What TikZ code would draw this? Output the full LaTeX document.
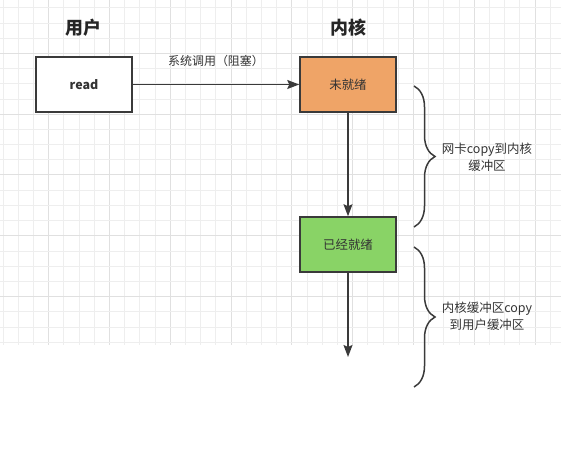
\documentclass[tikz,border=0pt]{standalone}
\usepackage{fontspec}
\setmainfont{Noto Sans CJK SC}
\usepackage{tikz}
\usetikzlibrary{positioning, arrows.meta, decorations.pathreplacing}
\definecolor{lineGray}{HTML}{3A3A3A}
\definecolor{txtGray}{HTML}{333333}
\definecolor{notReady}{HTML}{EFA467}
\definecolor{isReady}{HTML}{89D366}
\definecolor{gridMinor}{HTML}{EEEEEE}
\definecolor{gridMajor}{HTML}{E0E0E0}
\tikzset{
  stateBox/.style={ draw=lineGray, line width=1.5bp, minimum width=96bp, minimum height=55bp, text=txtGray, font=\fontsize{12.5}{15}\selectfont }
}
\tikzset{
  userBox/.style={ stateBox, fill=white, font=\fontsize{12.5}{15}\selectfont\bfseries }
}
\tikzset{
  colTitle/.style={ text=black!85, font=\fontsize{18}{20}\selectfont\bfseries }
}
\tikzset{
  noteText/.style={ text=txtGray, align=center, font=\fontsize{12.5}{17}\selectfont }
}
\tikzset{
  flow/.style={ draw=lineGray, line width=1.5bp, -{Stealth[length=12bp, width=9bp, inset=2bp]} }
}
\tikzset{
  bigBrace/.style={ draw=lineGray, line width=1.5bp, decorate, decoration={brace, amplitude=21bp} }
}

\begin{document}
\begin{tikzpicture}[x=1bp, y=-1bp]
      \useasboundingbox (0, 0) rectangle (561, 450);
      % background grid
      \foreach \i in {0,...,36} {
        \pgfmathsetmacro\gx{3+15.2*\i}
        \pgfmathtruncatemacro\gm{mod(\i,4)}
        \ifnum\gm=3
          \draw[gridMajor, line width=1bp] (\gx, 0) -- (\gx, 345);
        \else
          \draw[gridMinor, line width=0.8bp] (\gx, 0) -- (\gx, 345);
        \fi
      }
      \foreach \i in {0,...,22} {
        \pgfmathsetmacro\gy{7.8+15.2*\i}
        \pgfmathtruncatemacro\gm{mod(\i,4)}
        \ifnum\gm=3
          \draw[gridMajor, line width=1bp] (0, \gy) -- (561, \gy);
        \else
          \draw[gridMinor, line width=0.8bp] (0, \gy) -- (561, \gy);
        \fi
      }

      \node[colTitle] (user) at (83, 28) {用户};
      \node[colTitle] (kernel) at (348, 28) {内核};

      \node[userBox] (read) at (84, 84.5) {read};
      \node[stateBox, fill=notReady] (wait) at (348, 84.5) {未就绪};
      \node[stateBox, fill=isReady] (ready) at (348, 244.5) {已经就绪};
      \coordinate (copyEnd) at (348, 357);

      \draw[flow] (read) -- node[midway, above=17bp, inner sep=0, text=txtGray, font=\fontsize{12}{14}\selectfont] (call) {系统调用（阻塞）} (wait);
      \draw[flow] (wait) -- (ready);
      \draw[flow] (ready) -- (copyEnd);

      % braces on the right
      \coordinate (b1top) at (414, 86);
      \coordinate (b1bot) at (414, 227);
      \coordinate (b2top) at (414, 247);
      \coordinate (b2bot) at (414, 387);
      \draw[bigBrace] (b1top) -- (b1bot);
      \draw[bigBrace] (b2top) -- (b2bot);

      \node[noteText] (dma) at (487, 157.5) {网卡copy到内核\\缓冲区};
      \node[noteText] (copy) at (487, 316.5) {内核缓冲区copy\\到用户缓冲区};
    \end{tikzpicture}
\end{document}
